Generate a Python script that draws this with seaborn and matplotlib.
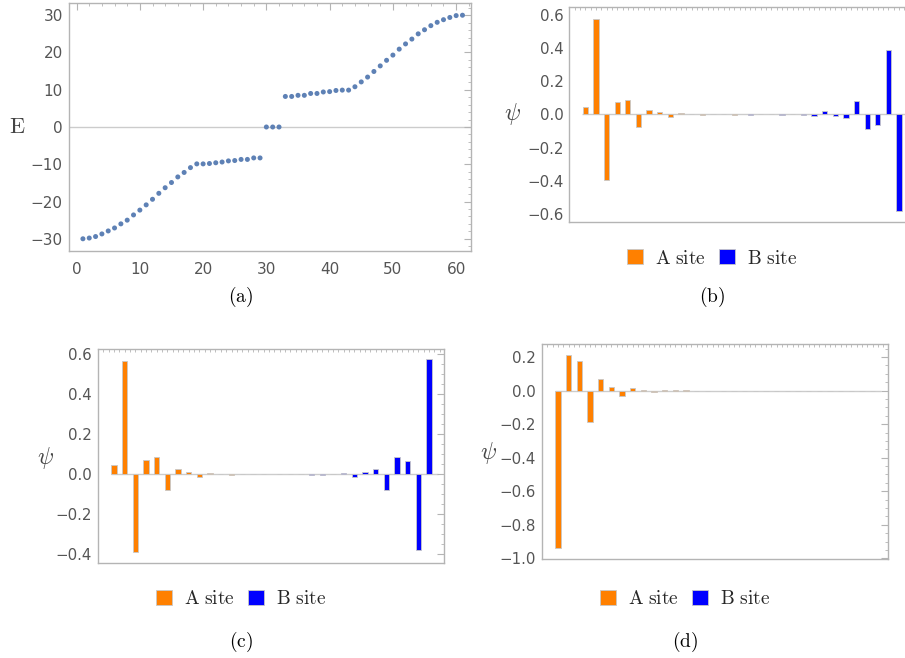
import numpy as np
import pandas as pd
import matplotlib.pyplot as plt
import seaborn as sns
from matplotlib.patches import Patch
from matplotlib.font_manager import FontProperties
from matplotlib.ticker import MultipleLocator

# ---- panel (a): energy spectrum ----
energy = [-30.0, -29.8, -29.4, -28.7, -27.9, -27.1, -26.0, -25.0, -23.6, -22.3,
          -20.9, -19.4, -17.8, -16.3, -14.9, -13.4, -12.2, -10.9, -9.9, -9.9,
          -9.8, -9.6, -9.4, -9.1, -9.0, -8.7, -8.7, -8.3, -8.3,
          0.0, 0.0, 0.0,
          8.2, 8.2, 8.5, 8.5, 9.0, 9.0, 9.4, 9.5, 9.8, 9.9, 9.9,
          10.8, 12.1, 13.4, 14.9, 16.4, 17.9, 19.3, 20.9, 22.3, 23.6,
          25.0, 26.1, 27.2, 28.1, 28.8, 29.4, 29.9, 30.0]

# ---- panels (b)-(d): wavefunction amplitudes on A and B sites ----
psi_b_A = [0.044, 0.577, -0.398, 0.074, 0.086, -0.078, 0.028, 0.012, -0.014,
           0.008, 0.001, -0.002, 0.001, -0.0005, -0.002]
psi_b_B = [-0.001, 0.0005, -0.0005, -0.001, 0.001, -0.002, -0.008, 0.018,
           -0.012, -0.024, 0.082, -0.086, -0.064, 0.39, -0.585]

psi_c_A = [0.045, 0.567, -0.39, 0.073, 0.085, -0.078, 0.027, 0.012, -0.015,
           0.008, 0.001, -0.002, 0.001, 0.0, 0.0005]
psi_c_B = [0.0005, -0.0005, 0.0005, -0.001, -0.003, 0.0005, 0.007, -0.015,
           0.012, 0.025, -0.077, 0.087, 0.065, -0.378, 0.575]

psi_d_A = [-0.94, 0.211, 0.175, -0.185, 0.068, 0.02, -0.034, 0.018, 0.001,
           -0.006, 0.005, 0.002, 0.001, 0.0, 0.0]
psi_d_B = [0.0] * 15

site_labels = ["A site", "B site"]
captions = ["(a)", "(b)", "(c)", "(d)"]

ORANGE = "#ff8000"
BLUE = "#0000ff"
FRAME = "#b4b4b4"
TICKTXT = "#555555"

sns.set_style("white")
plt.rcParams["font.family"] = ["DejaVu Sans"]
plt.rcParams["axes.edgecolor"] = FRAME
plt.rcParams["axes.linewidth"] = 1.0

fig = plt.figure(figsize=(9.05, 6.58), dpi=100)
W, H = 905, 658


def px_axes(left, top, right, bottom):
    return fig.add_axes([left / W, 1 - bottom / H, (right - left) / W, (bottom - top) / H])


def style_frame(ax, fs):
    ax.tick_params(which="both", direction="in", top=True, right=True,
                   colors=FRAME, labelcolor=TICKTXT, labelsize=fs)
    ax.tick_params(which="major", length=5, width=0.8)
    ax.tick_params(which="minor", length=2.5, width=0.6)


def cm_text(s):
    # Computer Modern look for the LaTeX-style labels
    return r"$\mathrm{" + s.replace(" ", r"\ ") + "}$"


# (a)
ax_a = px_axes(69, 3.3, 470.7, 250.7)
n = np.arange(1, len(energy) + 1)
ax_a.axhline(0, color="#cccccc", lw=1.0, zorder=0)
sns.scatterplot(x=n, y=energy, ax=ax_a, color="#5e81b5", s=13,
                edgecolor="none", zorder=3)
ax_a.set_xlim(-1.2, 62.3)
ax_a.set_ylim(-33.2, 33.2)
ax_a.xaxis.set_major_locator(MultipleLocator(10))
ax_a.xaxis.set_minor_locator(MultipleLocator(2))
ax_a.yaxis.set_major_locator(MultipleLocator(10))
ax_a.yaxis.set_minor_locator(MultipleLocator(2))
style_frame(ax_a, 11)
ax_a.tick_params(axis="x", which="major", pad=8)
ax_a.tick_params(axis="y", which="major", pad=4.5)
ax_a.set_yticklabels([f"{int(v)}".replace("-", "\u2212") for v in ax_a.get_yticks()])
ax_a.set_xlabel("")
ax_a.set_ylabel("")
fig.text(17 / W, 1 - 127 / H, r"$\mathrm{E}$", fontsize=16, color="#444444",
         ha="center", va="center", math_fontfamily="cm")


def bar_panel(ax, psi_A, psi_B, ylim, ymajor, yminor):
    pos_A = np.arange(len(psi_A), dtype=float)
    pos_B = len(psi_A) + 0.5 + np.arange(len(psi_B), dtype=float)
    df = pd.DataFrame({
        "pos": np.concatenate([pos_A, pos_B]),
        "psi": list(psi_A) + list(psi_B),
        "site": [site_labels[0]] * len(psi_A) + [site_labels[1]] * len(psi_B),
    })
    ax.hlines(0, -0.3, pos_B[-1] + 0.8, color="#cccccc", lw=1.0, zorder=0)
    sns.barplot(data=df, x="pos", y="psi", hue="site", native_scale=True,
                dodge=False, width=0.5, errorbar=None, legend=False,
                saturation=1,
                palette={site_labels[0]: ORANGE, site_labels[1]: BLUE},
                edgecolor="#c8c8c8", linewidth=0.6, ax=ax, zorder=2)
    ax.set_xlim(-1.53, 30.9)
    ax.set_ylim(*ylim)
    ax.xaxis.set_major_locator(MultipleLocator(0.5))
    ax.xaxis.set_minor_locator(MultipleLocator(0.5))
    ax.set_xticklabels([])
    ax.yaxis.set_major_locator(MultipleLocator(ymajor))
    ax.yaxis.set_minor_locator(MultipleLocator(yminor))
    style_frame(ax, 10.8)
    ax.tick_params(axis="x", which="both", length=2, width=0.6)
    ax.tick_params(axis="y", which="major", pad=4)
    ax.set_yticklabels([f"{v:.1f}".replace("-", "\u2212") for v in ax.get_yticks()])
    ax.set_xlabel("")
    ax.set_ylabel("")


ax_b = px_axes(569, 7.3, 914, 221.7)
bar_panel(ax_b, psi_b_A, psi_b_B, (-0.647, 0.645), 0.2, 0.05)
ax_c = px_axes(97.7, 349, 444, 563.3)
bar_panel(ax_c, psi_c_A, psi_c_B, (-0.445, 0.627), 0.2, 0.05)
ax_d = px_axes(541.7, 344.3, 887.7, 559)
bar_panel(ax_d, psi_d_A, psi_d_B, (-1.004, 0.276), 0.2, 0.05)

# psi labels
for (x, y) in [(512, 114), (45, 458), (488, 453)]:
    fig.text(x / W, 1 - y / H, r"$\psi$", fontsize=17, color="#444444",
             ha="center", va="center", math_fontfamily="cm")

# legends
handles = [Patch(facecolor=ORANGE, edgecolor="#c8c8c8", lw=0.6),
           Patch(facecolor=BLUE, edgecolor="#c8c8c8", lw=0.6)]
leg_font = FontProperties(size=14, math_fontfamily="cm")
for (x, y) in [(712, 258), (241, 599), (685, 599)]:
    fig.legend(handles, [cm_text(s) for s in site_labels], loc="center",
               bbox_to_anchor=(x / W, 1 - y / H), ncol=2, frameon=False,
               handlelength=0.82, handleheight=0.82, handletextpad=0.62,
               columnspacing=0.64, borderaxespad=0, prop=leg_font)

# captions
for cap, (x, y) in zip(captions, [(241, 297), (712, 297), (241, 642), (685, 642)]):
    fig.text(x / W, 1 - y / H, cm_text(cap), fontsize=14, math_fontfamily="cm",
             ha="center", va="center", color="black")

fig.savefig("out.png", dpi=100)
